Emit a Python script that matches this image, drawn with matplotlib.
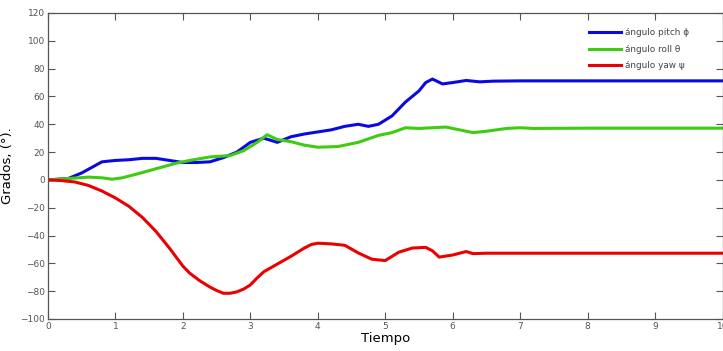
import numpy as np
import matplotlib.pyplot as plt

# tiempo de los puntos leidos
t_pitch = [0, 0.3, 0.5, 0.8, 1.0, 1.2, 1.4, 1.6, 1.8, 2.0, 2.2, 2.4, 2.6, 2.8, 3.0, 3.2,
           3.4, 3.6, 3.8, 4.0, 4.2, 4.4, 4.6, 4.75, 4.9, 5.1, 5.3, 5.5, 5.6, 5.7, 5.85,
           6.0, 6.2, 6.4, 6.6, 7.0, 8.0, 9.0, 10.0]
pitch = [0, 1, 5, 13, 14, 14.5, 15.5, 15.5, 14, 12.5, 12.5, 13, 16, 20, 27, 30,
         27, 31, 33, 34.5, 36, 38.5, 40, 38.5, 40, 46, 56, 64, 70, 72.5, 69,
         70, 71.5, 70.5, 71, 71.2, 71.2, 71.2, 71.2]

t_roll = [0, 0.3, 0.6, 0.8, 0.95, 1.1, 1.3, 1.6, 1.9, 2.1, 2.4, 2.7, 2.9, 3.1, 3.25,
          3.4, 3.6, 3.8, 4.0, 4.3, 4.6, 4.9, 5.1, 5.3, 5.5, 5.7, 5.9, 6.1, 6.3, 6.5,
          6.8, 7.0, 7.2, 8.0, 9.0, 10.0]
roll = [0, 1, 2, 1.5, 0.5, 1.5, 4, 8, 12, 14, 16.5, 17.5, 21, 27, 32.5,
        29, 27.5, 25, 23.5, 24, 27, 32, 34, 37.5, 37, 37.5, 38, 36, 34, 35,
        37, 37.5, 37, 37.2, 37.2, 37.2]

t_yaw = [0, 0.2, 0.4, 0.6, 0.8, 1.0, 1.2, 1.4, 1.6, 1.8, 1.9, 2.0, 2.1, 2.25, 2.4, 2.5,
         2.6, 2.7, 2.8, 2.9, 3.0, 3.1, 3.2, 3.4, 3.6, 3.8, 3.9, 4.0, 4.2, 4.4, 4.6,
         4.8, 5.0, 5.2, 5.4, 5.6, 5.7, 5.8, 6.0, 6.2, 6.3, 6.5, 7.0, 8.0, 9.0, 10.0]
yaw = [0, -0.5, -1.5, -4, -8, -13, -19, -27, -37, -49, -55.5, -62, -67, -72.5, -77, -79.5,
       -81.5, -81.5, -80.5, -78.5, -75.5, -70.5, -66, -60.5, -55, -49, -46.5, -45.5, -46, -47, -52.5,
       -57, -58, -52, -49, -48.5, -51, -55.5, -54, -51.5, -53, -52.7, -52.7, -52.7, -52.7, -52.7]

xticks = [0, 1, 2, 3, 4, 5, 6, 7, 8, 9, 10]
yticks = [-100, -80, -60, -40, -20, 0, 20, 40, 60, 80, 100, 120]

fig = plt.figure(figsize=(7.23, 3.51), dpi=100)
ax = fig.add_axes([48/723, 1 - 319/351, 674.5/723, 306/351])

ax.plot(t_pitch, pitch, color='#0a0ae0', lw=2.2, label='ángulo pitch ϕ')
ax.plot(t_roll, roll, color='#3fcc10', lw=2.2, label='ángulo roll θ')
ax.plot(t_yaw, yaw, color='#ea0000', lw=2.2, label='ángulo yaw ψ')

ax.set_xlim(0, 10)
ax.set_ylim(-100, 120)
ax.set_xticks(xticks)
ax.set_yticks(yticks)
ax.tick_params(direction='in', top=True, right=True, length=5, width=0.8,
               labelsize=6.5, labelcolor='#555555', color='#555555', pad=2)
for s in ax.spines.values():
    s.set_color('#555555')
    s.set_linewidth(0.9)

ax.set_xlabel('Tiempo', fontsize=9.5, labelpad=1)
ax.set_ylabel('Grados, (°).', fontsize=9.5, labelpad=5)

leg = ax.legend(loc='upper left', bbox_to_anchor=(0.79, 0.976), frameon=False,
                fontsize=6.4, handlelength=3.6, handletextpad=0.45, labelspacing=0.85,
                labelcolor='#444444')

fig.savefig('out.png', dpi=100)
